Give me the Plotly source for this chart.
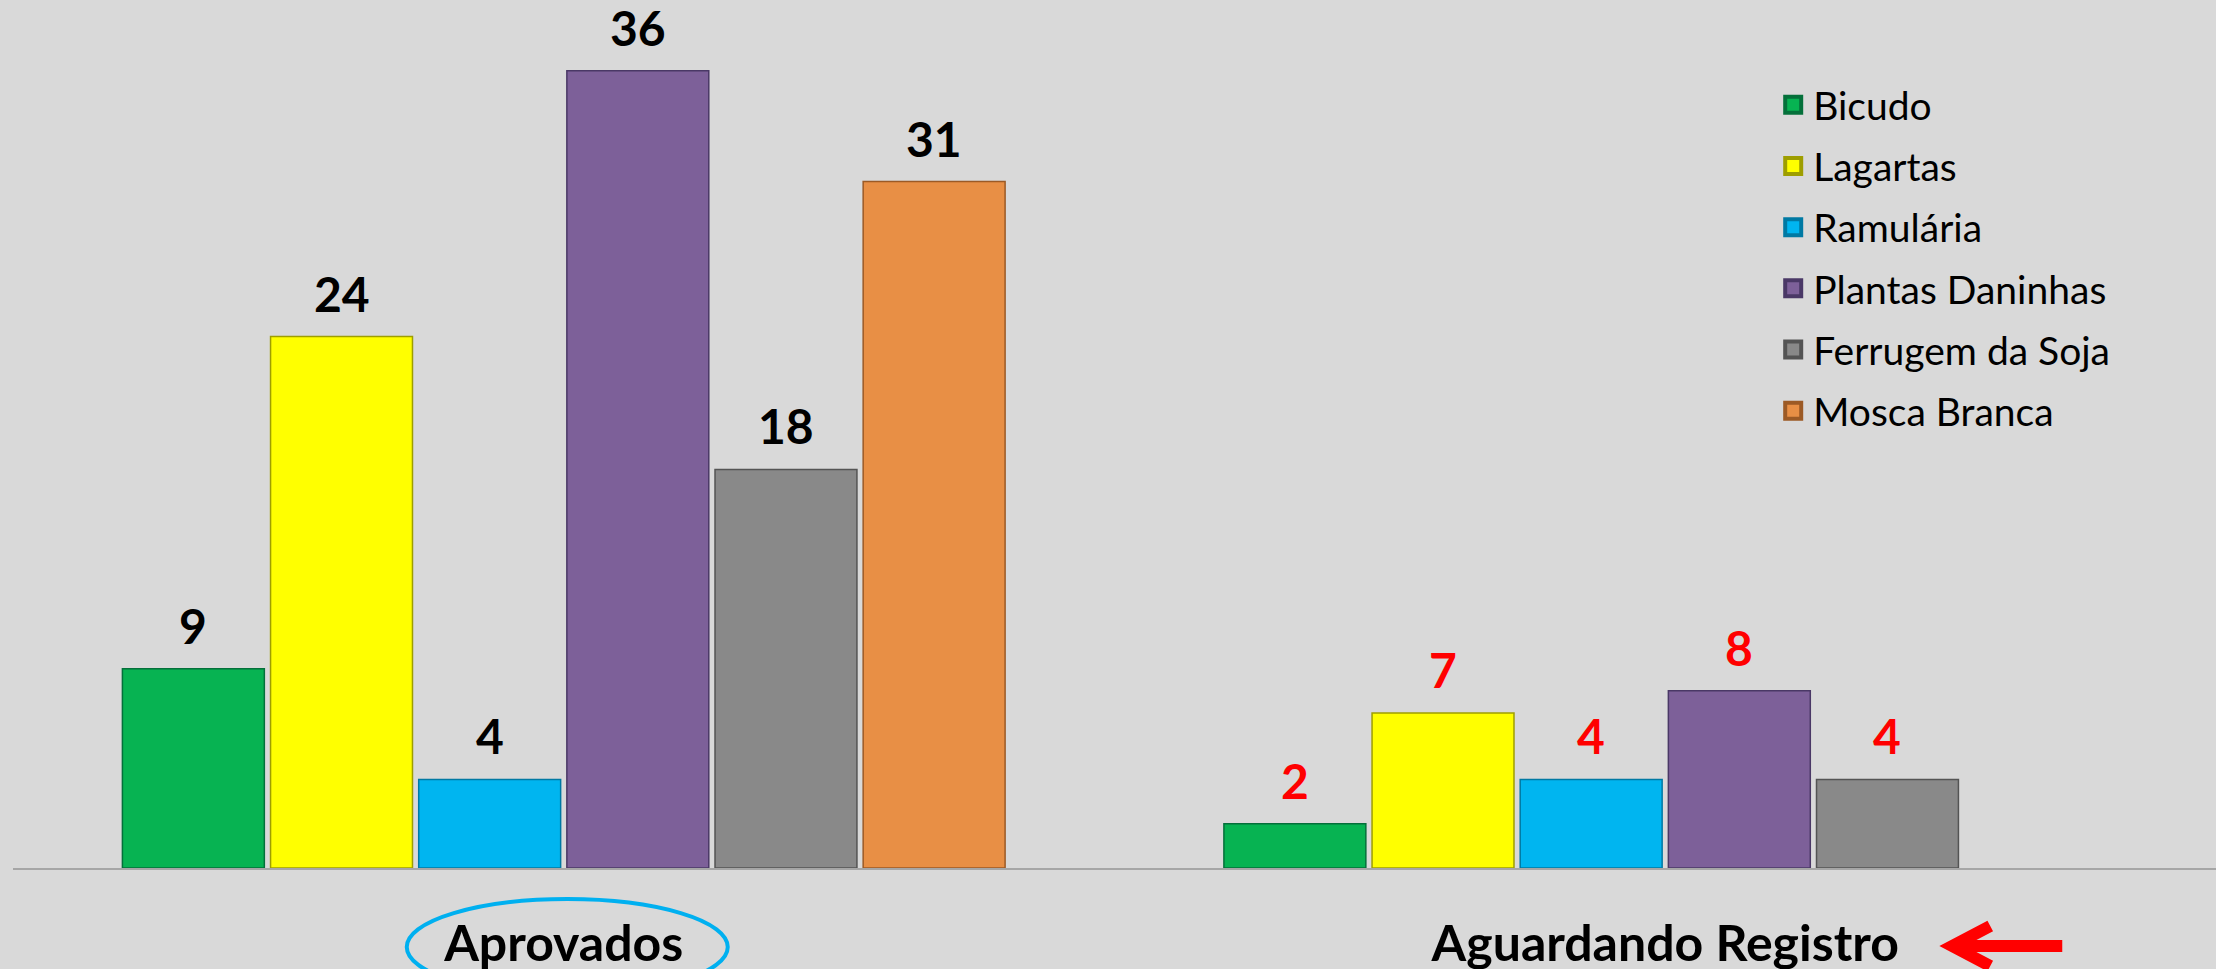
import plotly.graph_objects as go

# ---------------- data ----------------
categories = ["Aprovados", "Aguardando Registro"]
series_names = ["Bicudo", "Lagartas", "Ramulária", "Plantas Daninhas",
                "Ferrugem da Soja", "Mosca Branca"]
bicudo = [9, 2]
lagartas = [24, 7]
ramularia = [4, 4]
plantas_daninhas = [36, 8]
ferrugem_da_soja = [18, 4]
mosca_branca = [31, None]
label_colors = ["#000000", "#FF0000"]   # per category

series_values = [bicudo, lagartas, ramularia, plantas_daninhas,
                 ferrugem_da_soja, mosca_branca]

# ---------------- style ----------------
fills = ["#07B352", "#FFFF00", "#00B5F0", "#7D6099", "#898989", "#E88F45"]
edges = ["#04703A", "#9E9E00", "#0079A3", "#4A3866", "#545454", "#9C5A25"]
BG = "#D9D9D9"
FONT = "Lato"
BARGAP = 0.193
BARGROUPGAP = 0.042

fig = go.Figure()

n = len(series_names)
for j, (name, vals) in enumerate(zip(series_names, series_values)):
    fig.add_trace(go.Bar(
        x=categories, y=vals, name=name,
        marker=dict(color=fills[j], line=dict(color=edges[j], width=1.5)),
        showlegend=False, hoverinfo="skip",
    ))
    # legend swatch
    fig.add_trace(go.Scatter(
        x=[None], y=[None], mode="markers", name=name,
        legendgroup=name,
        marker=dict(symbol="square", size=16, color=fills[j],
                    line=dict(color=edges[j], width=4)),
        showlegend=True,
    ))

# value labels as annotations placed over each bar
annotations = []
w = 1 - BARGAP
for j, vals in enumerate(series_values):
    for i, v in enumerate(vals):
        if v is None:
            continue
        xc = i - w / 2 + (j + 0.5) * w / n
        annotations.append(dict(
            x=xc, y=v, xref="x", yref="y", text=str(v),
            showarrow=False, yanchor="bottom", yshift=13,
            font=dict(family=FONT, size=48, color=label_colors[i],
                      weight="bold"),
        ))

shapes = [
    # ellipse around "Aprovados"
    dict(type="circle", xref="paper", yref="paper",
         xsizemode="pixel", ysizemode="pixel", xanchor=0.25, yanchor=0,
         x0=-157, x1=164, y0=-127, y1=-31,
         line=dict(color="#00B0F0", width=4), layer="above"),
    # red arrow next to "Aguardando Registro"
    dict(type="path", xref="paper", yref="paper",
         xsizemode="pixel", ysizemode="pixel", xanchor=0.75, yanchor=0,
         path="M325,-58 L287,-78 L325,-98 M287,-78 L397,-78",
         line=dict(color="#FF0000", width=12), layer="above"),
]

fig.update_layout(
    width=2216, height=969,
    margin=dict(l=13, r=0, t=0, b=101, autoexpand=False),
    paper_bgcolor=BG, plot_bgcolor=BG,
    barmode="group", bargap=BARGAP, bargroupgap=BARGROUPGAP,
    font=dict(family=FONT, color="#000000"),
    legend=dict(x=0.799, y=0.916, xanchor="left", yanchor="top",
                font=dict(family=FONT, size=39, color="#000000"),
                bgcolor="rgba(0,0,0,0)", tracegroupgap=7.5,
                itemclick=False),
    annotations=annotations,
    shapes=shapes,
    xaxis=dict(type="category", showline=True, linecolor="#A6A6A6",
               linewidth=2, ticks="", showgrid=False, automargin=False,
               tickfont=dict(family=FONT, size=50, color="#000000",
                             weight="bold"),
               ticklabelstandoff=31, fixedrange=True),
    yaxis=dict(range=[0, 39.2], visible=False, showgrid=False,
               zeroline=False, fixedrange=True, automargin=False),
)

fig.write_html(
    "out.html",
    config={"displayModeBar": False},
    post_script="document.body.style.margin='0px';"
                "document.body.style.overflow='hidden';",
)
